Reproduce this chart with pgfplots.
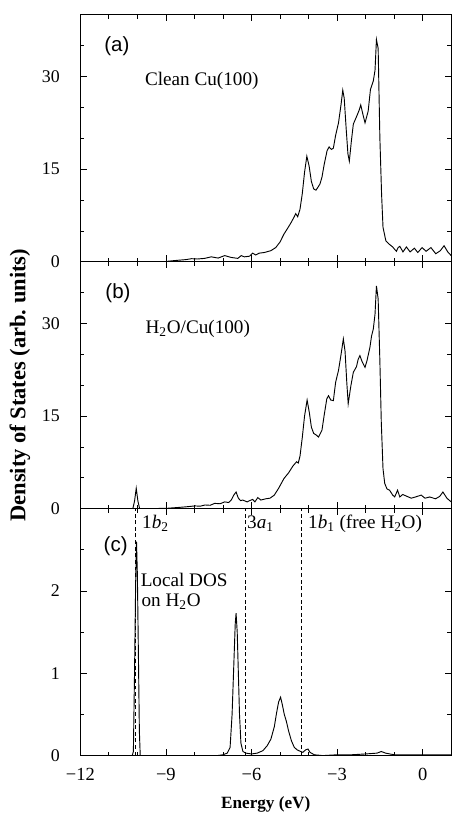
\documentclass[border=0pt]{standalone}
\usepackage{fontspec}
\setmainfont{Liberation Serif}
\newfontfamily\labsans{Liberation Sans}
\usepackage{pgfplots}
\usepackage{pgfplotstable}
\pgfplotsset{compat=1.18}

% panel (a): clean Cu(100)
\pgfplotstableread{
E dos
-9.00 0.05
-8.80 0.15
-8.56 0.25
-8.30 0.35
-8.10 0.50
-7.90 0.45
-7.64 0.55
-7.41 0.80
-7.17 0.60
-6.94 1.00
-6.71 0.70
-6.48 0.55
-6.36 1.00
-6.25 0.80
-6.07 0.90
-5.96 1.40
-5.85 1.10
-5.73 1.40
-5.55 1.50
-5.32 1.80
-5.15 2.30
-5.00 3.20
-4.86 4.50
-4.75 5.30
-4.63 6.20
-4.50 7.30
-4.45 7.80
-4.38 7.30
-4.30 8.50
-4.22 11.0
-4.14 14.5
-4.06 17.1
-3.98 15.5
-3.90 13.0
-3.82 11.8
-3.74 11.6
-3.68 12.0
-3.60 12.6
-3.53 13.7
-3.45 15.8
-3.35 18.0
-3.28 18.6
-3.20 18.2
-3.13 18.4
-3.05 20.5
-2.95 22.5
-2.86 25.5
-2.80 27.8
-2.75 26.5
-2.68 21.5
-2.62 17.5
-2.57 16.3
-2.50 19.5
-2.43 22.3
-2.31 23.6
-2.23 24.5
-2.17 25.4
-2.10 24.0
-2.02 22.5
-1.91 24.4
-1.83 27.9
-1.73 29.3
-1.67 31.0
-1.62 36.0
-1.56 34.6
-1.50 20.1
-1.44 11.0
-1.39 5.6
-1.29 3.4
-1.16 2.8
-1.05 2.4
-0.98 2.0
-0.92 1.7
-0.86 2.3
-0.80 2.5
-0.69 1.6
-0.57 2.4
-0.44 1.6
-0.29 2.2
-0.17 1.5
-0.02 2.3
0.12 1.7
0.29 2.3
0.46 1.3
0.62 1.8
0.75 2.6
0.88 1.6
1.00 1.0
}\cleancu

% panel (b): H2O/Cu(100)
\pgfplotstableread{
E dos
-12.00 0.0
-10.16 0.0
-10.10 1.2
-10.04 3.3
-9.98 1.2
-9.92 0.0
-9.00 0.05
-8.56 0.20
-8.30 0.30
-7.98 0.45
-7.80 0.40
-7.63 0.60
-7.45 0.55
-7.29 0.86
-7.10 0.80
-6.94 1.10
-6.80 1.00
-6.71 1.40
-6.62 2.20
-6.54 2.70
-6.46 1.70
-6.38 1.30
-6.31 1.40
-6.15 1.10
-6.07 1.30
-5.96 1.50
-5.88 1.10
-5.78 1.80
-5.67 1.40
-5.50 1.60
-5.35 1.70
-5.20 2.20
-5.05 3.30
-4.86 4.90
-4.70 5.80
-4.55 6.90
-4.42 7.60
-4.36 7.40
-4.30 8.50
-4.22 11.5
-4.14 15.0
-4.05 17.6
-3.97 15.5
-3.90 13.2
-3.82 12.2
-3.72 11.9
-3.65 11.6
-3.53 12.7
-3.45 15.2
-3.36 17.8
-3.30 18.3
-3.22 17.6
-3.13 17.5
-3.05 20.5
-2.95 22.4
-2.86 25.0
-2.78 27.5
-2.72 25.5
-2.66 20.5
-2.61 17.0
-2.52 19.8
-2.43 22.1
-2.32 23.0
-2.26 24.2
-2.20 24.8
-2.12 23.8
-2.02 22.9
-1.95 24.0
-1.85 26.1
-1.79 28.0
-1.73 29.1
-1.67 31.5
-1.62 36.1
-1.56 34.0
-1.50 24.0
-1.45 14.0
-1.39 6.5
-1.33 4.1
-1.25 3.2
-1.16 3.0
-1.05 2.2
-0.98 1.9
-0.88 3.0
-0.80 1.9
-0.70 2.3
-0.55 2.0
-0.40 1.7
-0.25 1.9
-0.05 2.2
0.08 1.7
0.25 1.9
0.45 1.6
0.60 2.0
0.71 2.7
0.85 1.7
1.00 1.1
}\watercu

% panel (c): local DOS on H2O
\pgfplotstableread{
E dos
-12.00 0.0
-10.18 0.0
-10.14 0.05
-10.10 1.00
-10.06 2.10
-10.03 2.60
-10.00 2.20
-9.97 1.40
-9.93 0.30
-9.90 0.0
-7.20 0.0
-7.00 0.01
-6.85 0.03
-6.75 0.10
-6.68 0.50
-6.62 1.10
-6.57 1.60
-6.54 1.73
-6.50 1.50
-6.46 1.00
-6.42 0.50
-6.37 0.15
-6.30 0.05
-6.20 0.03
-6.00 0.02
-5.80 0.03
-5.60 0.06
-5.45 0.12
-5.32 0.20
-5.20 0.35
-5.12 0.52
-5.05 0.65
-4.98 0.71
-4.92 0.62
-4.85 0.50
-4.78 0.42
-4.70 0.30
-4.60 0.18
-4.50 0.10
-4.40 0.07
-4.28 0.05
-4.20 0.04
-4.10 0.07
-4.02 0.08
-3.95 0.04
-3.80 0.01
-3.50 0.0
-3.00 0.01
-2.50 0.01
-2.00 0.02
-1.60 0.03
-1.45 0.05
-1.30 0.03
-1.00 0.01
0.00 0.01
1.00 0.01
}\localdos

\begin{document}
\begin{tikzpicture}
\pgfplotsset{
  dospanel/.style={
    scale only axis, width=280.5pt, height=186.75pt,
    xmin=-12, xmax=1, ymin=0,
    xtick={-12,-9,-6,-3,0},
    minor xtick={-11,-10,-8,-7,-5,-4,-2,-1},
    tick align=inside,
    major tick length=5pt, minor tick length=3pt,
    axis line style={line width=0.6pt},
    every tick/.style={black, line width=0.6pt},
    yticklabel style={font=\fontsize{13.5}{13.5}\selectfont, xshift=-12pt},
    xticklabel style={font=\fontsize{14}{14}\selectfont, yshift=-6pt},
  },
}

\begin{axis}[dospanel, name=pc, at={(0,0)},
    ymax=3, ytick={0,1,2}, yticklabels={0,1,2}, minor ytick={0.5,1.5,2.5},
    xticklabels={−12,−9,−6,−3,0},
    xlabel={Energy (eV)},
    xlabel style={font=\bfseries\fontsize{13}{13}\selectfont, at={(axis description cs:0.5,-0.199)}, anchor=center}]
\addplot[black, line width=0.7pt] table[x=E,y=dos]{\localdos};
\addplot[black, dashed, dash pattern=on 3pt off 2pt, line width=0.6pt] coordinates {(-10.07,0) (-10.07,3)};
\addplot[black, dashed, dash pattern=on 3pt off 2pt, line width=0.6pt] coordinates {(-6.22,0) (-6.22,3)};
\addplot[black, dashed, dash pattern=on 3pt off 2pt, line width=0.6pt] coordinates {(-4.26,0) (-4.26,3)};
\node[font=\labsans\fontsize{15.5}{15.5}\selectfont] at (axis cs:-10.76,2.55) {(c)};
\node[anchor=base west, font=\fontsize{14.5}{14.5}\selectfont, inner sep=0pt] at (axis cs:-9.84,2.76) {1\textit{b}\textsubscript{2}};
\node[anchor=base west, font=\fontsize{14.5}{14.5}\selectfont, inner sep=0pt] at (axis cs:-6.16,2.76) {3\textit{a}\textsubscript{1}};
\node[anchor=base west, font=\fontsize{14.5}{14.5}\selectfont, inner sep=0pt] at (axis cs:-4.02,2.76) {1\textit{b}\textsubscript{1} (free H\textsubscript{2}O)};
\node[anchor=base west, font=\fontsize{14.5}{14.5}\selectfont, inner sep=0pt] at (axis cs:-9.89,2.05) {Local DOS};
\node[anchor=base west, font=\fontsize{14.5}{14.5}\selectfont, inner sep=0pt] at (axis cs:-9.86,1.81) {on H\textsubscript{2}O};
\end{axis}

\begin{axis}[dospanel, name=pb, at={(0,186.75pt)},
    ymax=40, ytick={0,15,30}, yticklabels={0,15,30}, minor ytick={5,10,20,25,35},
    xticklabels={},
    ylabel={Density of States (arb.\ units)},
    ylabel style={font=\bfseries\fontsize{17}{17}\selectfont, at={(axis description cs:-0.163,0.5)}, anchor=center}]
\addplot[black, line width=0.7pt] table[x=E,y=dos]{\watercu};
\node[font=\labsans\fontsize{15.5}{15.5}\selectfont] at (axis cs:-10.68,34.9) {(b)};
\node[anchor=base west, font=\fontsize{14.5}{14.5}\selectfont, inner sep=0pt] at (axis cs:-9.72,28.4) {H\textsubscript{2}O/Cu(100)};
\end{axis}

\begin{axis}[dospanel, name=pa, at={(0,373.5pt)},
    ymax=40, ytick={0,15,30}, yticklabels={0,15,30}, minor ytick={5,10,20,25,35},
    xticklabels={}]
\addplot[black, line width=0.7pt] table[x=E,y=dos]{\cleancu};
\node[font=\labsans\fontsize{15.5}{15.5}\selectfont] at (axis cs:-10.72,35) {(a)};
\node[anchor=base west, font=\fontsize{14.5}{14.5}\selectfont, inner sep=0pt] at (axis cs:-9.74,28.5) {Clean Cu(100)};
\end{axis}

\path[use as bounding box] ([shift={(-60.75pt,-42pt)}]pc.south west) rectangle ([shift={(0.4pt,11.25pt)}]pa.north east);
\end{tikzpicture}
\end{document}
